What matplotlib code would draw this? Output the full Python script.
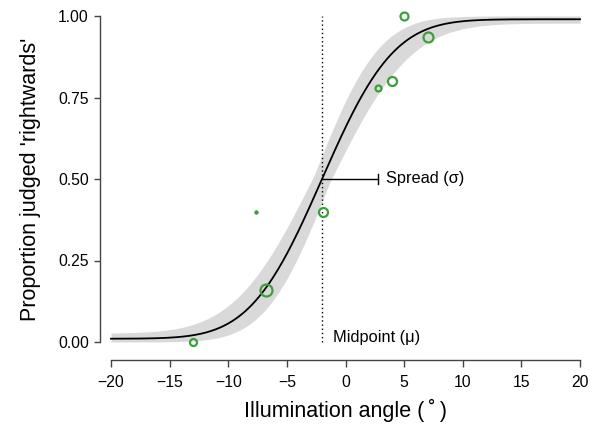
import numpy as np
import matplotlib
matplotlib.use("Agg")
import matplotlib.pyplot as plt
from math import erf, sqrt

plt.rcParams['font.family'] = ['Liberation Sans', 'DejaVu Sans']

# Observed proportions per stimulus level
angle = [-13.0, -7.6, -6.8, -1.9, 2.8, 4.0, 5.0, 7.0]
prop = [0.0, 0.40, 0.16, 0.40, 0.78, 0.80, 1.00, 0.935]
marker_diam_px = [7, 3, 12, 9, 6, 9, 8, 10]

# Fitted psychometric function parameters
mu = -2.0
sigma = 4.8
guess = 0.01
lapse = 0.01

xticks = [-20, -15, -10, -5, 0, 5, 10, 15, 20]
yticks = [0.0, 0.25, 0.5, 0.75, 1.0]
ytick_labels = ["0.00", "0.25", "0.50", "0.75", "1.00"]

verf = np.vectorize(erf)


def psy(x, m, s, g, l):
    return g + (1 - g - l) * 0.5 * (1 + verf((x - m) / (s * sqrt(2))))


xs = np.linspace(-20, 20, 400)
curve = psy(xs, mu, sigma, guess, lapse)

# Envelope of plausible fits
lo = np.full_like(xs, np.inf)
hi = np.full_like(xs, -np.inf)
for m in np.linspace(mu - 0.65, mu + 0.65, 7):
    for s in np.linspace(4.3, 5.4, 5):
        for g in (0.0, 0.027):
            for l in (0.0, 0.022):
                y = psy(xs, m, s, g, l)
                lo = np.minimum(lo, y)
                hi = np.maximum(hi, y)

fig = plt.figure(figsize=(6.01, 4.32), dpi=100)
ax = fig.add_axes([111 / 601, 90 / 432, 469 / 601, 326 / 432])
ax.set_xlim(-20, 20)
ax.set_ylim(0, 1)

ax.fill_between(xs, lo, hi, color='#d9d9d9', lw=0, clip_on=False, zorder=1)
ax.plot(xs, curve, color='black', lw=1.3, clip_on=False, zorder=3)

ax.plot([mu, mu], [0.0, 1.0], color='black', lw=1.0, ls=(0, (1, 2)),
        clip_on=False, zorder=2)

green = '#3c9e3c'
for xa, ya, d in zip(angle, prop, marker_diam_px):
    if d <= 3:
        ax.plot(xa, ya, 'o', ms=d * 0.72, color=green, mec=green,
                clip_on=False, zorder=4)
    else:
        ax.plot(xa, ya, 'o', ms=d * 0.72, mfc='none', mec=green, mew=1.6,
                clip_on=False, zorder=4)

# Spread marker
ax.plot([mu, mu + sigma], [0.5, 0.5], color='black', lw=1.0, zorder=3)
ax.plot([mu + sigma, mu + sigma], [0.485, 0.515], color='black', lw=1.0,
        zorder=3)
ax.text(mu + sigma + 0.65, 0.5, "Spread (σ)", fontsize=11.8, va='center',
        ha='left')
ax.text(mu + 0.9, 0.015, "Midpoint (μ)", fontsize=11.8, va='center',
        ha='left')

for side in ('top', 'right'):
    ax.spines[side].set_visible(False)
ax.spines['left'].set_position(('outward', 8))
ax.spines['bottom'].set_position(('outward', 13))
ax.spines['left'].set_bounds(0, 1)
ax.spines['bottom'].set_bounds(-20, 20)
for side in ('left', 'bottom'):
    ax.spines[side].set_color('#444444')
    ax.spines[side].set_linewidth(1.0)

ax.set_xticks(xticks)
ax.set_xticklabels([str(t).replace('-', '\u2212') for t in xticks])
ax.set_yticks(yticks)
ax.set_yticklabels(ytick_labels)
ax.tick_params(axis='both', labelsize=11.3, color='#444444', width=1.0,
               length=4, pad=4)
ax.tick_params(axis='x', length=5, pad=6)

ax.set_xlabel("Illumination angle (\u2009˚\u2009)", fontsize=15.5, labelpad=6)
ax.set_ylabel("Proportion judged 'rightwards'", fontsize=15.5, labelpad=12)

fig.savefig("out.png", dpi=100)
